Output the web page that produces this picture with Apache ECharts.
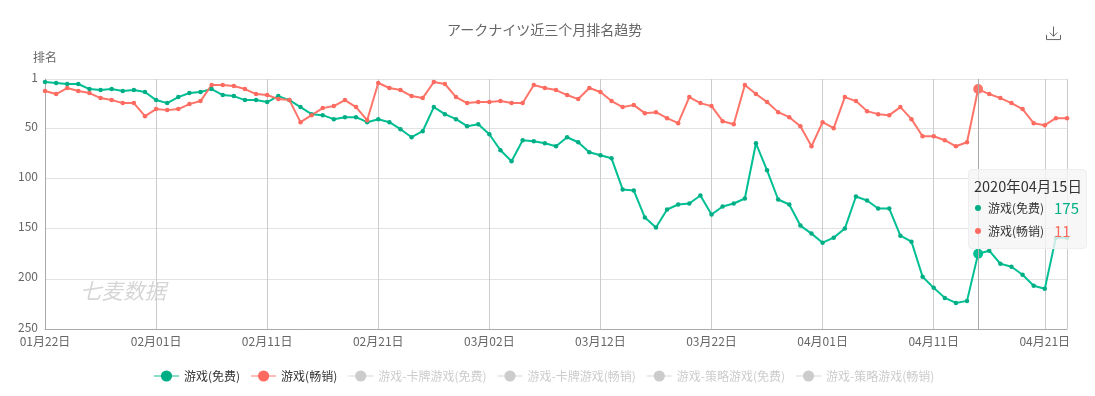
<!DOCTYPE html>
<html><head><meta charset="utf-8">
<style>html,body{margin:0;padding:0;background:#fff}#c{width:1095px;height:396px}</style>
<script src="https://cdn.jsdelivr.net/npm/echarts@6/dist/echarts.min.js"></script>
</head><body><div id="c"></div>
<script>
const titleText='アークナイツ近三个月排名趋势';
const startDate=[2020,1,22];
const rankTicks=[1,50,100,150,200,250];
const freeRank=[4,5,6,6,11,12,11,13,12,14,22,25,19,15,14,11,17,18,22,22,24,18,22,29,36,37,41,39,39,44,41,44,51,59,53,29,36,41,48,46,56,72,83,62,63,65,68,59,64,74,77,80,111,112,139,149,131,126,125,117,136,128,125,120,65,92,121,126,147,155,164,159,150,118,122,130,130,157,163,198,209,219,224,222,175,172,185,188,196,207,210,159,159];
const paidRank=[13,16,10,13,15,20,22,25,25,38,31,32,31,26,23,7,7,8,11,16,17,21,22,44,37,30,28,22,29,42,5,10,12,18,20,4,6,19,25,24,24,23,25,25,7,10,12,17,21,10,14,23,29,27,35,34,40,45,19,25,28,43,46,7,16,24,34,39,48,68,44,50,19,23,33,36,37,29,41,58,58,62,68,64,11,16,20,25,31,45,47,40,40];
const seriesNames=['游戏(免费)','游戏(畅销)','游戏-卡牌游戏(免费)','游戏-卡牌游戏(畅销)','游戏-策略游戏(免费)','游戏-策略游戏(畅销)'];
const seriesColors=['#00ae86','#fc6a60','#5b8ff9','#f6bd16','#9270ca','#269a99'];
const seriesValues=[freeRank,paidRank,[],[],[],[]];
const hoverIndex=84;
const fontFamily='"Noto Sans CJK SC","Noto Sans",sans-serif';
const pad=n=>String(n).padStart(2,'0');
const categories=freeRank.map((_,i)=>{const d=new Date(Date.UTC(startDate[0],startDate[1]-1,startDate[2]+i));return d.getUTCFullYear()+'年'+pad(d.getUTCMonth()+1)+'月'+pad(d.getUTCDate())+'日';});
const lastIndex=categories.length-1;
const downloadIcon='path://M0,9 L0,14 L15,14 L15,9 M7.5,0 L7.5,10.5 M3.5,6.5 L7.5,10.5 L11.5,6.5';
const chart=echarts.init(document.getElementById('c'),null,{renderer:'canvas'});
chart.setOption({
  animation:false,
  textStyle:{fontFamily},
  title:{text:titleText,left:442,top:18,textStyle:{fontSize:14,fontWeight:'normal',color:'#666',fontFamily}},
  toolbox:{right:17,top:9,itemSize:14,feature:{saveAsImage:{icon:downloadIcon,title:''}},iconStyle:{color:'none',borderColor:'#666',borderWidth:1}},
  grid:{left:45,right:28,top:79,bottom:67,containLabel:false},
  graphic:[{type:'text',left:80,top:280,silent:true,style:{text:'七麦数据',fontSize:21.5,fontStyle:'italic',fill:'#d6d6d6',fontFamily}}],
  legend:{bottom:9,left:148,itemWidth:25,itemHeight:14,itemGap:10,inactiveColor:'#ccc',lineStyle:{opacity:0.45},textStyle:{fontSize:12,color:'#333',fontFamily},
    data:seriesNames,selected:Object.fromEntries(seriesNames.map((n,i)=>[n,i<2]))},
  tooltip:{trigger:'axis',alwaysShowContent:true,transitionDuration:0,
    backgroundColor:'rgba(245,245,245,0.8)',borderColor:'#eee',borderWidth:1,padding:0,extraCssText:'box-shadow:none;border-radius:4px;',
    axisPointer:{type:'line',lineStyle:{color:'#aaa',width:1,type:'solid'}},
    position:()=>[968,169],
    formatter:ps=>{const rows=ps.map(p=>'<div style="display:flex;align-items:center;height:23px;font-size:12px;color:#333"><span style="width:6px;height:6px;border-radius:50%;background:'+p.color+';margin:0 7px 0 1px"></span><span style="width:66px;white-space:nowrap">'+p.seriesName+'</span><span style="width:26px;text-align:left;font-size:15px;color:'+p.color+'">'+p.value+'</span></div>').join('');
      return '<div style="width:107px;height:67px;padding:6px 5px 5px;box-sizing:content-box;font-family:'+fontFamily.replace(/"/g,"'")+';line-height:1"><div style="font-size:14.5px;color:#333;height:20px;line-height:20px;white-space:nowrap">'+ps[0].axisValue+'</div>'+rows+'</div>';}},
  xAxis:{type:'category',boundaryGap:false,data:categories,position:'bottom',
    axisLine:{onZero:false,lineStyle:{color:'#aaa'}},axisTick:{show:false},
    splitLine:{show:true,interval:i=>i%10===0||i===lastIndex,lineStyle:{color:'#ccc'}},
    axisLabel:{interval:i=>i%10===0,color:'#666',fontSize:12,margin:6,fontFamily,formatter:v=>v.slice(5)}},
  yAxis:{type:'value',inverse:true,min:1,max:250,name:'排名',nameLocation:'start',nameGap:16,
    nameTextStyle:{color:'#666',fontSize:12},
    axisLine:{show:true,lineStyle:{color:'#aaa'}},axisTick:{show:false,customValues:rankTicks},
    splitLine:{lineStyle:{color:'#e2e2e2'}},
    axisLabel:{customValues:rankTicks,color:'#666',fontSize:12,margin:7,formatter:v=>'{a|'+v+'}',rich:{a:{color:'#666',fontSize:12,padding:[0,0,4,0]}}}},
  series:seriesNames.map((name,i)=>({name,type:'line',data:seriesValues[i],symbol:'circle',symbolSize:4.5,showSymbol:true,
    lineStyle:{width:2,color:seriesColors[i]},itemStyle:{color:seriesColors[i]},emphasis:{scale:2.2}}))
});
chart.dispatchAction({type:'showTip',seriesIndex:0,dataIndex:hoverIndex});
</script></body></html>
